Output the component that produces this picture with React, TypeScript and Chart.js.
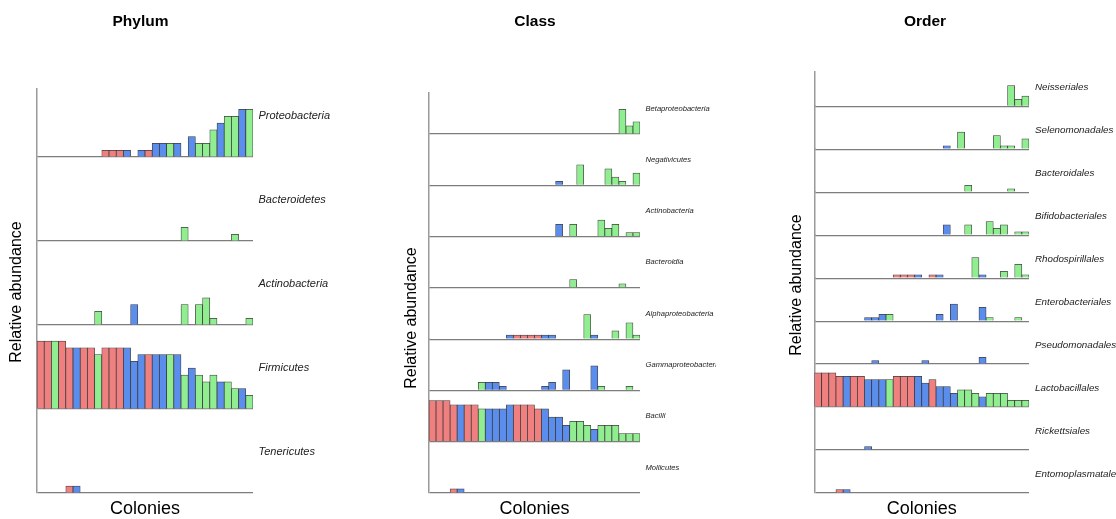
import React, { useEffect, useRef } from 'react';
import { Chart, registerables } from 'chart.js';

Chart.register(...registerables);

const _ = null;

const colonies = ['1', '2', '3', '4', '5', '6', '7', '8', '9', '10', '11', '12', '13', '14', '15', '16', '17', '18', '19', '20', '21', '22', '23', '24', '25', '26', '27', '28', '29', '30'];

const xTitle = 'Colonies';
const yTitle = 'Relative abundance';

// ---------- Phylum ----------
const phylumGroups = ['R', 'R', 'G', 'R', 'R', 'B', 'R', 'R', 'G', 'R', 'R', 'R', 'B', 'B', 'B', 'R', 'B', 'B', 'G', 'B', 'G', 'B', 'G', 'G', 'G', 'B', 'G', 'G', 'B', 'G'];
const phylumTaxa = ['Proteobacteria', 'Bacteroidetes', 'Actinobacteria', 'Firmicutes', 'Tenericutes'];
const pProteobacteria = [_, _, _, _, _, _, _, _, _, 0.1, 0.1, 0.1, 0.1, _, 0.1, 0.1, 0.2, 0.2, 0.2, 0.2, _, 0.3, 0.2, 0.2, 0.4, 0.5, 0.6, 0.6, 0.7, 0.7];
const pBacteroidetes = [_, _, _, _, _, _, _, _, _, _, _, _, _, _, _, _, _, _, _, _, 0.2, _, _, _, _, _, _, 0.1, _, _];
const pActinobacteria = [_, _, _, _, _, _, _, _, 0.2, _, _, _, _, 0.3, _, _, _, _, _, _, 0.3, _, 0.3, 0.4, 0.1, _, _, _, _, 0.1];
const pFirmicutes = [1, 1, 1, 1, 0.9, 0.9, 0.9, 0.9, 0.8, 0.9, 0.9, 0.9, 0.9, 0.7, 0.8, 0.8, 0.8, 0.8, 0.8, 0.8, 0.5, 0.6, 0.5, 0.4, 0.5, 0.4, 0.4, 0.3, 0.3, 0.2];
const pTenericutes = [_, _, _, _, 0.1, 0.1, _, _, _, _, _, _, _, _, _, _, _, _, _, _, _, _, _, _, _, _, _, _, _, _];

// ---------- Class ----------
const classGroups = ['R', 'R', 'R', 'R', 'B', 'R', 'R', 'G', 'B', 'B', 'B', 'B', 'R', 'R', 'R', 'R', 'B', 'B', 'B', 'B', 'G', 'G', 'G', 'B', 'G', 'G', 'G', 'G', 'G', 'G'];
const classTaxa = ['Betaproteobacteria', 'Negativicutes', 'Actinobacteria', 'Bacteroidia', 'Alphaproteobacteria', 'Gammaproteobacteria', 'Bacilli', 'Mollicutes'];
const cBetaproteobacteria = [_, _, _, _, _, _, _, _, _, _, _, _, _, _, _, _, _, _, _, _, _, _, _, _, _, _, _, 0.6, 0.2, 0.3];
const cNegativicutes = [_, _, _, _, _, _, _, _, _, _, _, _, _, _, _, _, _, _, 0.1, _, _, 0.5, _, _, _, 0.4, 0.2, 0.1, _, 0.3];
const cActinobacteria = [_, _, _, _, _, _, _, _, _, _, _, _, _, _, _, _, _, _, 0.3, _, 0.3, _, _, _, 0.4, 0.2, 0.3, _, 0.1, 0.1];
const cBacteroidia = [_, _, _, _, _, _, _, _, _, _, _, _, _, _, _, _, _, _, _, _, 0.2, _, _, _, _, _, _, 0.1, _, _];
const cAlphaproteobacteria = [_, _, _, _, _, _, _, _, _, _, _, 0.1, 0.1, 0.1, 0.1, 0.1, 0.1, 0.1, _, _, _, _, 0.6, 0.1, _, _, 0.2, _, 0.4, 0.1];
const cGammaproteobacteria = [_, _, _, _, _, _, _, 0.2, 0.2, 0.2, 0.1, _, _, _, _, _, 0.1, 0.2, _, 0.5, _, _, _, 0.6, 0.1, _, _, _, 0.1, _];
const cBacilli = [1, 1, 1, 0.9, 0.9, 0.9, 0.9, 0.8, 0.8, 0.8, 0.8, 0.9, 0.9, 0.9, 0.9, 0.8, 0.8, 0.6, 0.6, 0.4, 0.5, 0.5, 0.4, 0.3, 0.4, 0.4, 0.4, 0.2, 0.2, 0.2];
const cMollicutes = [_, _, _, 0.1, 0.1, _, _, _, _, _, _, _, _, _, _, _, _, _, _, _, _, _, _, _, _, _, _, _, _, _];

// ---------- Order ----------
const orderGroups = ['R', 'R', 'R', 'R', 'B', 'R', 'R', 'B', 'B', 'B', 'G', 'R', 'R', 'R', 'B', 'B', 'R', 'B', 'B', 'B', 'G', 'G', 'G', 'B', 'G', 'G', 'G', 'G', 'G', 'G'];
const orderTaxa = ['Neisseriales', 'Selenomonadales', 'Bacteroidales', 'Bifidobacteriales', 'Rhodospirillales', 'Enterobacteriales', 'Pseudomonadales', 'Lactobacillales', 'Rickettsiales', 'Entomoplasmatales'];
const oNeisseriales = [_, _, _, _, _, _, _, _, _, _, _, _, _, _, _, _, _, _, _, _, _, _, _, _, _, _, _, 0.6, 0.2, 0.3];
const oSelenomonadales = [_, _, _, _, _, _, _, _, _, _, _, _, _, _, _, _, _, _, 0.1, _, 0.5, _, _, _, _, 0.4, 0.1, 0.1, _, 0.3];
const oBacteroidales = [_, _, _, _, _, _, _, _, _, _, _, _, _, _, _, _, _, _, _, _, _, 0.2, _, _, _, _, _, 0.1, _, _];
const oBifidobacteriales = [_, _, _, _, _, _, _, _, _, _, _, _, _, _, _, _, _, _, 0.3, _, _, 0.3, _, _, 0.4, 0.2, 0.3, _, 0.1, 0.1];
const oRhodospirillales = [_, _, _, _, _, _, _, _, _, _, _, 0.1, 0.1, 0.1, 0.1, _, 0.1, 0.1, _, _, _, _, 0.6, 0.1, _, _, 0.2, _, 0.4, 0.1];
const oEnterobacteriales = [_, _, _, _, _, _, _, 0.1, 0.1, 0.2, 0.2, _, _, _, _, _, _, 0.2, _, 0.5, _, _, _, 0.4, 0.1, _, _, _, 0.1, _];
const oPseudomonadales = [_, _, _, _, _, _, _, _, 0.1, _, _, _, _, _, _, 0.1, _, _, _, _, _, _, _, 0.2, _, _, _, _, _, _];
const oLactobacillales = [1, 1, 1, 0.9, 0.9, 0.9, 0.9, 0.8, 0.8, 0.8, 0.8, 0.9, 0.9, 0.9, 0.9, 0.7, 0.8, 0.6, 0.6, 0.4, 0.5, 0.5, 0.4, 0.3, 0.4, 0.4, 0.4, 0.2, 0.2, 0.2];
const oRickettsiales = [_, _, _, _, _, _, _, 0.1, _, _, _, _, _, _, _, _, _, _, _, _, _, _, _, _, _, _, _, _, _, _];
const oEntomoplasmatales = [_, _, _, 0.1, 0.1, _, _, _, _, _, _, _, _, _, _, _, _, _, _, _, _, _, _, _, _, _, _, _, _, _];

// ---------- styling ----------
const FONT = '"Liberation Sans", Arial, Helvetica, sans-serif';
const palette: Record<string, string> = { R: '#F08080', B: '#5B8DEC', G: '#90EE90' };
const barBorder = 'rgba(40,40,40,0.9)';
const baselineColor = '#7d7d7d';
const axisColor = '#9a9a9a';

type PanelCfg = {
  title: string;
  taxa: string[];
  values: (number | null)[][];
  groups: string[];
  left: number;
  width: number;
  plotLeft: number;
  plotRight: number;
  plotTop: number;
  plotBottom: number;
  rowMax: number;
  titleX: number;
  yTitleX: number;
  yTitleY: number;
  labelSize: number;
  labelOffset: number;
  labelGap: number;
};

const panels: PanelCfg[] = [
  {
    title: 'Phylum', taxa: phylumTaxa,
    values: [pProteobacteria, pBacteroidetes, pActinobacteria, pFirmicutes, pTenericutes],
    groups: phylumGroups, left: 0, width: 390,
    plotLeft: 37, plotRight: 253, plotTop: 89, plotBottom: 493, rowMax: 1.235,
    titleX: 140.5, yTitleX: 17, yTitleY: 292, labelSize: 11, labelOffset: 38.5, labelGap: 5.5,
  },
  {
    title: 'Class', taxa: classTaxa,
    values: [cBetaproteobacteria, cNegativicutes, cActinobacteria, cBacteroidia, cAlphaproteobacteria, cGammaproteobacteria, cBacilli, cMollicutes],
    groups: classGroups, left: 390, width: 326,
    plotLeft: 429, plotRight: 640, plotTop: 93, plotBottom: 493, rowMax: 1.25,
    titleX: 535, yTitleX: 412, yTitleY: 318, labelSize: 7.6, labelOffset: 23.5, labelGap: 5.5,
  },
  {
    title: 'Order', taxa: orderTaxa,
    values: [oNeisseriales, oSelenomonadales, oBacteroidales, oBifidobacteriales, oRhodospirillales, oEnterobacteriales, oPseudomonadales, oLactobacillales, oRickettsiales, oEntomoplasmatales],
    groups: orderGroups, left: 716, width: 400,
    plotLeft: 814.5, plotRight: 1029, plotTop: 72, plotBottom: 493, rowMax: 1.255,
    titleX: 925, yTitleX: 797, yTitleY: 285, labelSize: 9.8, labelOffset: 16, labelGap: 6,
  },
];

const textPlugin = {
  id: 'panelText',
  afterDraw(chart: any, _args: any, opts: any) {
    const cfg: PanelCfg = opts.cfg;
    if (!cfg) return;
    const ctx = chart.ctx;
    const ca = chart.chartArea;
    const off = cfg.left;
    ctx.save();
    ctx.fillStyle = '#000';
    ctx.textAlign = 'center';
    ctx.textBaseline = 'alphabetic';
    ctx.font = `bold 15.5px ${FONT}`;
    ctx.fillText(cfg.title, cfg.titleX - off, 25.7);
    ctx.font = `18px ${FONT}`;
    ctx.fillText(xTitle, (ca.left + ca.right) / 2, 514);
    ctx.save();
    ctx.translate(cfg.yTitleX - off, cfg.yTitleY);
    ctx.rotate(-Math.PI / 2);
    ctx.textBaseline = 'middle';
    ctx.font = `16px ${FONT}`;
    ctx.fillText(yTitle, 0, 0);
    ctx.restore();
    ctx.textAlign = 'left';
    ctx.textBaseline = 'alphabetic';
    ctx.fillStyle = '#222';
    ctx.font = `italic ${cfg.labelSize}px ${FONT}`;
    cfg.taxa.forEach((name, i) => {
      const sc = chart.scales['y' + i];
      const y = sc.getPixelForValue(0) - cfg.labelOffset;
      ctx.fillText(name, ca.right + cfg.labelGap, y);
    });
    ctx.restore();
  },
};

function buildConfig(cfg: PanelCfg): any {
  const n = cfg.taxa.length;
  const scales: any = {
    x: { type: 'category', labels: colonies, display: false, offset: true, grid: { display: false } },
  };
  cfg.taxa.forEach((_name, i) => {
    const max = i === 0 ? 1 : cfg.rowMax;
    scales['y' + i] = {
      type: 'linear',
      position: 'left',
      stack: 'rows',
      stackWeight: max,
      weight: n - i,
      min: 0,
      max,
      ticks: { display: false },
      grid: {
        drawTicks: false,
        lineWidth: 1.2,
        color: (c: any) => (c.tick && c.tick.value === 0 ? baselineColor : 'rgba(0,0,0,0)'),
      },
      border: { display: true, color: axisColor, width: 1.5 },
    };
  });
  const datasets = cfg.taxa.map((name, i) => ({
    label: name,
    data: cfg.values[i],
    xAxisID: 'x',
    yAxisID: 'y' + i,
    grouped: false,
    barPercentage: 1,
    categoryPercentage: 1,
    backgroundColor: cfg.groups.map((g) => palette[g]),
    borderColor: barBorder,
    borderWidth: 0.75,
    borderSkipped: 'start',
  }));
  return {
    type: 'bar',
    data: { labels: colonies, datasets },
    options: {
      responsive: false,
      animation: false,
      devicePixelRatio: 1,
      layout: {
        padding: {
          left: cfg.plotLeft - cfg.left,
          right: cfg.left + cfg.width - cfg.plotRight,
          top: cfg.plotTop,
          bottom: 519 - cfg.plotBottom,
        },
      },
      scales,
      plugins: {
        legend: { display: false },
        tooltip: { enabled: false },
        title: { display: false },
        panelText: { cfg },
      },
    },
    plugins: [textPlugin],
  };
}

function Panel({ cfg }: { cfg: PanelCfg }) {
  const ref = useRef<HTMLCanvasElement>(null);
  useEffect(() => {
    const chart = new Chart(ref.current as HTMLCanvasElement, buildConfig(cfg));
    return () => chart.destroy();
  }, [cfg]);
  return (
    <canvas
      ref={ref}
      width={cfg.width}
      height={519}
      style={{ position: 'absolute', left: cfg.left, top: 0, width: cfg.width, height: 519 }}
    />
  );
}

export default function App() {
  return (
    <div style={{ position: 'absolute', left: 0, top: 0, width: 1116, height: 519, background: '#fff', overflow: 'hidden' }}>
      {panels.map((p) => (
        <Panel key={p.title} cfg={p} />
      ))}
    </div>
  );
}
